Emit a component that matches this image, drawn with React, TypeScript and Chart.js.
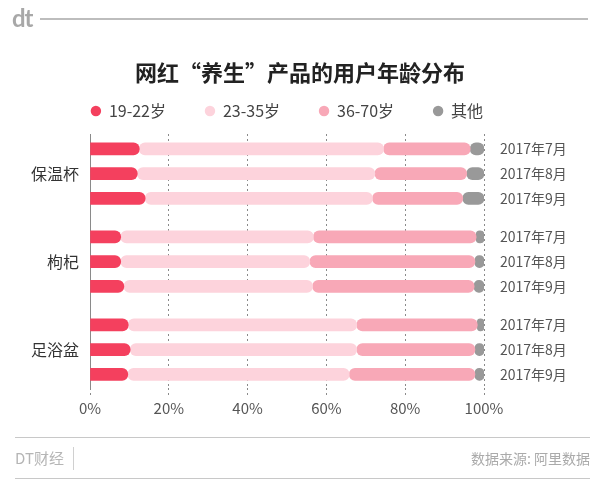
import React, { useEffect, useRef } from "react";
import { Chart, registerables } from "chart.js";

Chart.register(...registerables);

const groups = ["保温杯", "枸杞", "足浴盆"];
const months = ["2017年7月", "2017年8月", "2017年9月"];
const seriesNames = ["19-22岁", "23-35岁", "36-70岁", "其他"];
const age19to22 = [12.5, 12, 14, 7.8, 7.8, 8.6, 9.7, 10.2, 9.6];
const age23to35 = [62, 60.3, 57.7, 48.9, 48, 47.9, 58, 57.5, 56.2];
const age36to70 = [22, 23.3, 22.9, 41.3, 41.9, 41, 30.6, 30, 31.9];
const ageOther = [3.5, 4.4, 5.4, 2, 2.3, 2.5, 1.7, 2.3, 2.3];
const xTicks = [0, 20, 40, 60, 80, 100];

const colors = ["#f4405e", "#fdd3dc", "#f8a8b7", "#999999"];
const FONT = '"Noto Sans CJK SC", "Noto Sans", sans-serif';
const GROUP_STEP = 3.55;

// keep the legend centred over the plot area rather than the whole canvas
const legendOverPlot = {
  id: "legendOverPlot",
  afterLayout(chart: any) {
    const lg = chart.legend;
    if (!lg) return;
    const area = chart.chartArea;
    const dx = (area.left + area.right) / 2 - (lg.left + lg.right) / 2;
    lg.left += dx;
    lg.right += dx;
  },
};

export default function App() {
  const ref = useRef<HTMLCanvasElement>(null);

  useEffect(() => {
    document.body.style.margin = "0";
    const rowPos: number[] = [];
    const rowLabels: string[] = [];
    groups.forEach((_, g) => {
      months.forEach((m, r) => {
        rowPos.push(g * GROUP_STEP + r);
        rowLabels.push(m);
      });
    });
    const groupPos = groups.map((_, g) => g * GROUP_STEP + 1);
    const series = [age19to22, age23to35, age36to70, ageOther];
    const radius = { topLeft: 6, topRight: 6, bottomLeft: 6, bottomRight: 6 };

    const datasets = series.map((vals, i) => ({
      label: seriesNames[i],
      data: vals.map((v, k) => ({ x: v, y: rowPos[k] })),
      backgroundColor: colors[i],
      borderWidth: 0,
      borderRadius: radius,
      borderSkipped: i === 0 ? "start" : false,
      barThickness: 12,
      xAxisID: "x",
      yAxisID: "y",
    }));

    const yMin = -0.6;
    const yMax = 9.65;

    const chart = new Chart(ref.current!, {
      type: "bar",
      data: { datasets: datasets as any },
      plugins: [legendOverPlot],
      options: {
        indexAxis: "y",
        animation: false,
        responsive: false,
        maintainAspectRatio: false,
        layout: { padding: 0 },
        plugins: {
          tooltip: { enabled: false },
          title: {
            display: true,
            text: "网红“养生”产品的用户年龄分布",
            color: "#222",
            font: { family: FONT, size: 22, weight: "bold" },
            padding: { top: 59.8, bottom: -22.2 },
          },
          legend: {
            display: true,
            position: "top",
            align: "center",
            labels: {
              usePointStyle: true,
              pointStyle: "circle",
              boxWidth: 10,
              boxHeight: 7.4,
              padding: 39,
              color: "#444",
              font: { family: FONT, size: 16 },
            },
          },
        },
        scales: {
          x: {
            type: "linear",
            position: "bottom",
            min: 0,
            max: 100,
            stacked: true,
            afterBuildTicks: (s: any) => {
              s.ticks = xTicks.map((v) => ({ value: v }));
            },
            afterFit: (s: any) => {
              s.height = 92;
            },
            ticks: {
              color: "#555",
              font: { family: FONT, size: 15 },
              padding: 3,
              callback: (v: any) => v + "%",
            },
            grid: {
              display: true,
              color: (c: any) => (c.tick && c.tick.value === 0 ? "rgba(0,0,0,0)" : "#8a8a8a"),
              tickColor: "#8a8a8a",
              lineWidth: 1,
              drawTicks: true,
              tickLength: 8,
              tickBorderDash: [2, 3],
            },
            border: { display: false, dash: [2, 3] },
          },
          xTop: {
            type: "linear",
            axis: "x",
            position: "top",
            display: true,
            grid: { display: false, drawTicks: false },
            ticks: { display: false },
            border: { display: false },
            afterFit: (s: any) => {
              s.height = 5;
            },
          },
          y: {
            type: "linear",
            position: "left",
            reverse: true,
            stacked: true,
            offset: false,
            min: yMin,
            max: yMax,
            afterBuildTicks: (s: any) => {
              s.ticks = groupPos.map((v) => ({ value: v }));
            },
            afterFit: (s: any) => {
              s.width = 90;
            },
            ticks: {
              color: "#333",
              font: { family: FONT, size: 16 },
              padding: 11,
              autoSkip: false,
              callback: (_v: any, i: number) => groups[i],
            },
            grid: { display: false, drawTicks: false, offset: false },
            border: { display: true, color: "#8a8a8a", width: 1 },
          },
          y2: {
            type: "linear",
            position: "right",
            reverse: true,
            offset: false,
            min: yMin,
            max: yMax,
            afterBuildTicks: (s: any) => {
              s.ticks = rowPos.map((v) => ({ value: v }));
            },
            afterFit: (s: any) => {
              s.width = 116;
            },
            ticks: {
              color: "#555",
              font: { family: FONT, size: 14 },
              padding: 16,
              autoSkip: false,
              callback: (_v: any, i: number) => rowLabels[i],
            },
            grid: { display: false, drawTicks: false, offset: false },
            border: { display: false },
          },
        },
      } as any,
    });
    return () => chart.destroy();
  }, []);

  return (
    <div style={{ position: "relative", width: 600, height: 480, background: "#fff", fontFamily: FONT, overflow: "hidden" }}>
      <canvas ref={ref} width={600} height={480} style={{ position: "absolute", left: 0, top: 0, width: 600, height: 480 }} />
      <div style={{ position: "absolute", left: 12, top: 3, fontSize: 24, fontWeight: 700, color: "#a8a8a8", letterSpacing: -1, lineHeight: "30px", fontFamily: '"Lato", "Noto Sans", sans-serif' }}>dt</div>
      <div style={{ position: "absolute", left: 40, top: 18, width: 548, height: 1.5, background: "#bdbdbd" }} />
      <div style={{ position: "absolute", left: 15, top: 437, width: 575, height: 1, background: "#c8c8c8" }} />
      <div style={{ position: "absolute", left: 15, top: 448, fontSize: 15, color: "#b5b5b5", lineHeight: "20px" }}>DT财经</div>
      <div style={{ position: "absolute", left: 73, top: 447, width: 1, height: 23, background: "#d0d0d0" }} />
      <div style={{ position: "absolute", right: 10, top: 448, fontSize: 14, color: "#aaa", lineHeight: "20px" }}>数据来源: 阿里数据</div>
      <div style={{ position: "absolute", left: 15, top: 478, width: 575, height: 1, background: "#c8c8c8" }} />
    </div>
  );
}
